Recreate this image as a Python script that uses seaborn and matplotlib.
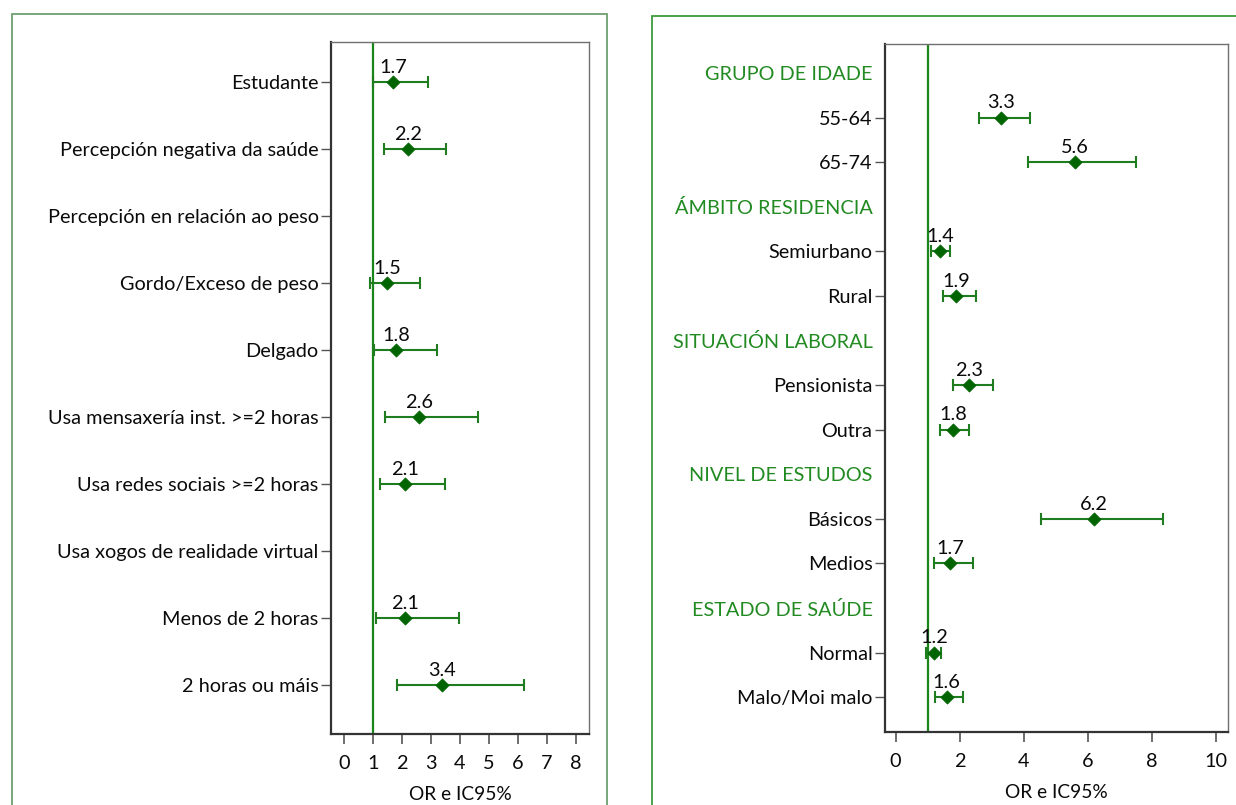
import matplotlib
matplotlib.use("Agg")
import matplotlib.pyplot as plt
from matplotlib.patches import Rectangle
import seaborn as sns
import pandas as pd

# ---- left panel data: odds ratios with 95% CI ----
left_labels = [
    "Estudante",
    "Percepción negativa da saúde",
    "Percepción en relación ao peso",
    "Gordo/Exceso de peso",
    "Delgado",
    "Usa mensaxería inst. >=2 horas",
    "Usa redes sociais >=2 horas",
    "Usa xogos de realidade virtual",
    "Menos de 2 horas",
    "2 horas ou máis",
]
left_or = [1.7, 2.2, None, 1.5, 1.8, 2.6, 2.1, None, 2.1, 3.4]
left_lo = [1.0, 1.39, None, 0.90, 1.03, 1.41, 1.25, None, 1.11, 1.85]
left_hi = [2.89, 3.53, None, 2.62, 3.21, 4.64, 3.50, None, 3.97, 6.21]
left_xticks = [0, 1, 2, 3, 4, 5, 6, 7, 8]

# ---- right panel data ----
right_labels = [
    "GRUPO DE IDADE", "55-64", "65-74",
    "ÁMBITO RESIDENCIA", "Semiurbano", "Rural",
    "SITUACIÓN LABORAL", "Pensionista", "Outra",
    "NIVEL DE ESTUDOS", "Básicos", "Medios",
    "ESTADO DE SAÚDE", "Normal", "Malo/Moi malo",
]
right_header = [True, False, False, True, False, False, True, False, False,
                True, False, False, True, False, False]
right_or = [None, 3.3, 5.6, None, 1.4, 1.9, None, 2.3, 1.8,
            None, 6.2, 1.7, None, 1.2, 1.6]
right_lo = [None, 2.61, 4.14, None, 1.10, 1.48, None, 1.79, 1.39,
            None, 4.55, 1.20, None, 0.96, 1.23]
right_hi = [None, 4.20, 7.50, None, 1.69, 2.52, None, 3.04, 2.29,
            None, 8.35, 2.41, None, 1.41, 2.11]
right_xticks = [0, 2, 4, 6, 8, 10]

FONT = ["Lato", "DejaVu Sans"]
sns.set_theme(style="white")
plt.rcParams["font.family"] = FONT

LINE_GREEN = "#1f7d1f"
MARK_GREEN = "#006400"
REF_GREEN = "#1a851a"
HEAD_GREEN = "#218a21"
TEXT = "#0a0a0a"
FS = 14.3

fig = plt.figure(figsize=(12.36, 8.05), dpi=100)

# outer panel frames
fig.add_artist(Rectangle((12 / 1236, -0.05), (607 - 12) / 1236, 1.05 - 14 / 805,
                         transform=fig.transFigure, fill=False,
                         edgecolor="#6f9f6f", linewidth=1.3))
fig.add_artist(Rectangle((652 / 1236, -0.05), 0.6, 1.05 - 16 / 805,
                         transform=fig.transFigure, fill=False,
                         edgecolor="#3d9c3d", linewidth=1.3))


def forest(ax, labels, ors, los, his, xticks, xlim, ylim, headers=None):
    n = len(labels)
    df = pd.DataFrame({"pos": range(n), "or": ors, "lo": los, "hi": his}).dropna()
    ax.axvline(1, color=REF_GREEN, linewidth=1.6, zorder=1)
    ax.errorbar(df["or"], df["pos"],
                xerr=[df["or"] - df["lo"], df["hi"] - df["or"]],
                fmt="none", ecolor=LINE_GREEN, elinewidth=1.5,
                capsize=4, capthick=1.5, zorder=2)
    sns.scatterplot(data=df, x="or", y="pos", marker="D", s=45,
                    color=MARK_GREEN, edgecolor=MARK_GREEN, ax=ax, zorder=3)
    for _, r in df.iterrows():
        ax.annotate(f"{r['or']:.1f}", (r["or"], r["pos"]), xytext=(0, 4.5),
                    textcoords="offset points", ha="center", va="bottom",
                    fontsize=FS, color=TEXT)
    ax.set_yticks(range(n))
    ax.set_yticklabels(labels, fontsize=FS, color=TEXT)
    ax.set_xticks(xticks)
    ax.set_xticklabels([str(t) for t in xticks], fontsize=FS, color=TEXT)
    ax.set_xlim(*xlim)
    ax.set_ylim(*ylim)
    ax.set_xlabel("OR e IC95%", fontsize=FS - 0.5, color=TEXT, labelpad=10)
    ax.set_ylabel("")
    ax.tick_params(axis="y", length=7, width=1, color="#555555", pad=2,
                   left=True)
    ax.tick_params(axis="x", length=7, width=1.2, color="#555555", pad=8,
                   bottom=True)
    for side in ["top", "right"]:
        ax.spines[side].set_color("#707070")
        ax.spines[side].set_linewidth(1.0)
    for side in ["left", "bottom"]:
        ax.spines[side].set_color("#333333")
        ax.spines[side].set_linewidth(1.6)
    if headers is not None:
        ticks = ax.yaxis.get_major_ticks()
        for tk, lab, h in zip(ticks, ax.get_yticklabels(), headers):
            if h:
                tk.tick1line.set_visible(False)
                lab.set_color(HEAD_GREEN)


ax1 = fig.add_axes([331 / 1236, 1 - 734 / 805, (589 - 331) / 1236, (734 - 42) / 805])
forest(ax1, left_labels, left_or, left_lo, left_hi, left_xticks,
       (-0.44, 8.45), (9.73, -0.6))

ax2 = fig.add_axes([885 / 1236, 1 - 732 / 805, (1228 - 885) / 1236, (732 - 44) / 805])
forest(ax2, right_labels, right_or, right_lo, right_hi, right_xticks,
       (-0.33, 10.39), (14.78, -0.65), headers=right_header)

fig.savefig("out.png", dpi=100)
